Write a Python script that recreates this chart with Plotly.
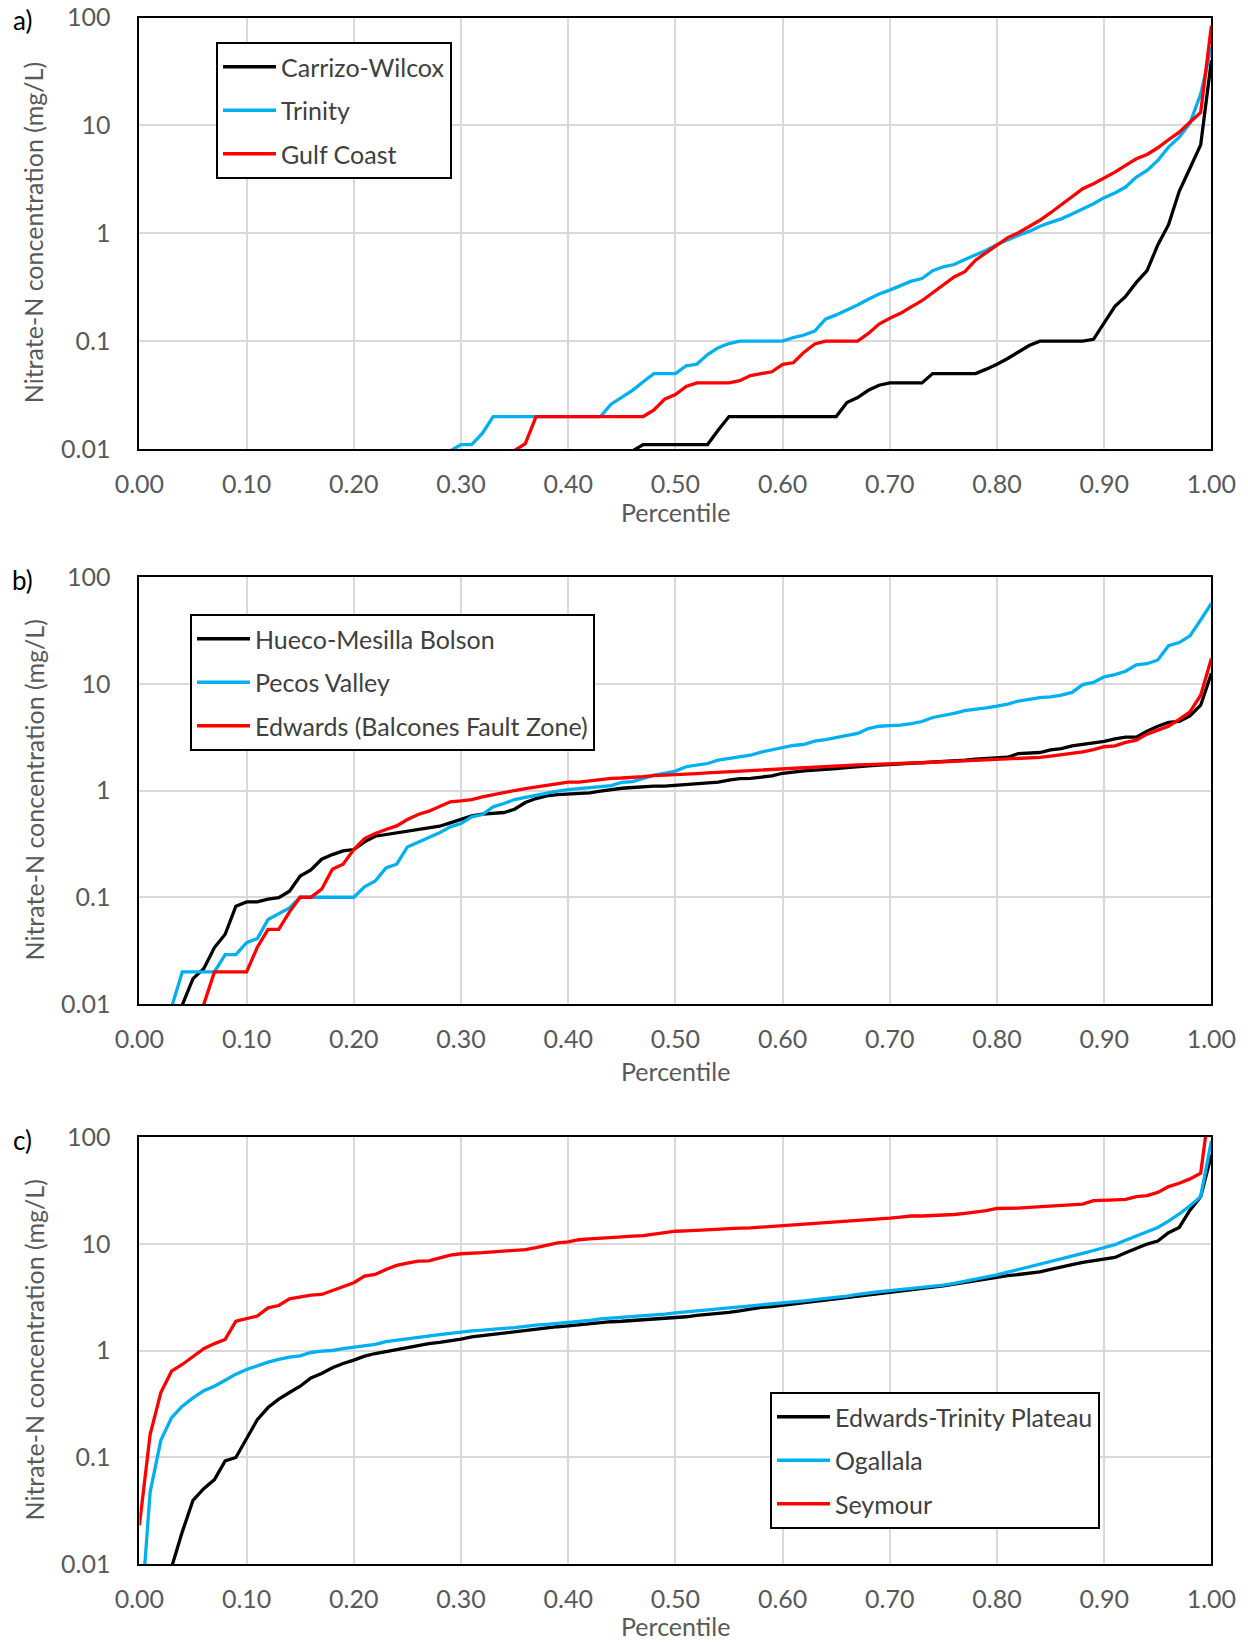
import plotly.graph_objects as go

# ---------------- data ----------------
PERCENTILE = [round(i / 100, 2) for i in range(101)]

# panel a
carrizo_wilcox = ([0.005] * 46 + [0.0096] + [0.011] * 7 + [0.015] + [0.02] * 11 +
                  [0.027, 0.030, 0.035, 0.039, 0.041, 0.041, 0.041, 0.041,
                   0.05, 0.05, 0.05, 0.05, 0.05, 0.055, 0.061, 0.069, 0.079, 0.091,
                   0.1, 0.1, 0.1, 0.1, 0.1, 0.104, 0.15, 0.21, 0.26, 0.35, 0.45,
                   0.78, 1.2, 2.45, 4.0, 6.6, 40])
trinity = ([0.005] * 29 + [0.0096, 0.011, 0.011, 0.014] + [0.02] * 11 +
           [0.026, 0.030, 0.035, 0.042, 0.05, 0.05, 0.05, 0.059, 0.061, 0.075, 0.087, 0.095,
            0.1, 0.1, 0.1, 0.1, 0.1, 0.108, 0.114, 0.124, 0.16, 0.175, 0.194, 0.216, 0.244,
            0.273, 0.297, 0.324, 0.36, 0.38, 0.449, 0.489, 0.513, 0.571, 0.626, 0.697,
            0.786, 0.873, 0.958, 1.04, 1.16, 1.26, 1.36, 1.51, 1.67, 1.88, 2.14, 2.36,
            2.68, 3.32, 3.82, 4.73, 6.28, 7.78, 10.5, 19.5, 53])
gulf_coast = ([0.005] * 35 + [0.0097, 0.0112] + [0.02] * 11 +
              [0.023, 0.029, 0.032, 0.038, 0.041, 0.041, 0.041, 0.041, 0.043, 0.048, 0.050,
               0.052, 0.061, 0.063, 0.079, 0.094, 0.1, 0.1, 0.1, 0.1, 0.118, 0.144, 0.163,
               0.181, 0.208, 0.237, 0.281, 0.33, 0.394, 0.44, 0.563, 0.662, 0.774, 0.912,
               1.01, 1.15, 1.32, 1.55, 1.84, 2.2, 2.59, 2.88, 3.25, 3.69, 4.26, 4.9, 5.38,
               6.2, 7.35, 8.65, 10.7, 13.2, 84])

# panel b
hueco_mesilla = ([0.005] * 4 +
                 [0.0098, 0.0173, 0.0214, 0.0338, 0.045, 0.0824, 0.0904, 0.0904, 0.0958, 0.099,
                  0.114, 0.158, 0.18, 0.227, 0.251, 0.272, 0.28, 0.33, 0.373, 0.387, 0.404,
                  0.419, 0.431, 0.447, 0.463, 0.498, 0.535, 0.579, 0.6, 0.61, 0.622, 0.668,
                  0.772, 0.841, 0.891, 0.917, 0.924, 0.93, 0.951, 0.986, 1.02, 1.05, 1.067,
                  1.09, 1.1, 1.1, 1.12, 1.15, 1.17, 1.19, 1.2, 1.25, 1.29, 1.3, 1.34, 1.37,
                  1.45, 1.5, 1.53, 1.55, 1.57, 1.6, 1.64, 1.68, 1.7, 1.73, 1.75, 1.78, 1.8,
                  1.83, 1.84, 1.87, 1.9, 1.92, 1.97, 1.99, 2.02, 2.05, 2.22, 2.24, 2.27, 2.4,
                  2.47, 2.62, 2.7, 2.76, 2.88, 3.05, 3.16, 3.16, 3.6, 4.0, 4.34, 4.43, 5.0,
                  6.3, 12.5])
pecos_valley = ([0.005] * 3 +
                [0.0093, 0.02, 0.02, 0.02, 0.02, 0.029, 0.029, 0.0376, 0.041, 0.0618, 0.0703,
                 0.0794, 0.1, 0.1, 0.1, 0.1, 0.1, 0.1, 0.125, 0.142, 0.188, 0.204, 0.296,
                 0.33, 0.363, 0.401, 0.457, 0.49, 0.567, 0.596, 0.703, 0.755, 0.823, 0.86,
                 0.904, 0.937, 0.986, 1.02, 1.04, 1.05, 1.08, 1.11, 1.19, 1.21, 1.3, 1.39,
                 1.45, 1.52, 1.67, 1.73, 1.79, 1.93, 1.99, 2.07, 2.14, 2.29, 2.39, 2.51,
                 2.64, 2.7, 2.9, 3.0, 3.14, 3.28, 3.42, 3.8, 4.0, 4.06, 4.09, 4.24, 4.43,
                 4.83, 5.0, 5.27, 5.6, 5.73, 5.95, 6.17, 6.45, 6.89, 7.15, 7.42, 7.54, 7.82,
                 8.29, 9.81, 10.3, 11.6, 12.2, 13.1, 15.0, 15.4, 16.7, 22.7, 24.3, 28.1,
                 39.6, 56.6])
edwards_bfz = ([0.005] * 6 +
               [0.0099, 0.02, 0.02, 0.02, 0.02, 0.034, 0.05, 0.05, 0.073, 0.1, 0.1, 0.119,
                0.183, 0.204, 0.28, 0.355, 0.395, 0.431, 0.466, 0.535, 0.596, 0.64, 0.703,
                0.783, 0.8, 0.823, 0.872, 0.917, 0.951, 1.0, 1.04, 1.08, 1.13, 1.16, 1.2,
                1.2, 1.23, 1.28, 1.3, 1.31, 1.32, 1.35, 1.38, 1.39, 1.4, 1.42, 1.44, 1.46,
                1.48, 1.5, 1.51, 1.53, 1.55, 1.57, 1.6, 1.62, 1.63, 1.65, 1.68, 1.72, 1.73,
                1.74, 1.75, 1.77, 1.79, 1.8, 1.81, 1.82, 1.84, 1.86, 1.87, 1.89, 1.91, 1.93,
                1.95, 1.97, 1.99, 2.01, 2.04, 2.1, 2.16, 2.22, 2.3, 2.42, 2.57, 2.62, 2.82,
                2.96, 3.37, 3.68, 4.0, 4.63, 5.46, 7.8, 17.3])

# panel c
edwards_trinity = ([0.005] * 3 +
                   [0.0093, 0.02, 0.0395, 0.0508, 0.0618, 0.0925, 0.0995, 0.15, 0.225, 0.292,
                    0.35, 0.404, 0.463, 0.554, 0.609, 0.688, 0.755, 0.812, 0.885, 0.937,
                    0.979, 1.02, 1.06, 1.1, 1.16, 1.19, 1.23, 1.28, 1.34, 1.38, 1.42, 1.46,
                    1.5, 1.53, 1.57, 1.62, 1.67, 1.7, 1.74, 1.79, 1.83, 1.86, 1.88, 1.91,
                    1.92, 1.95, 1.98, 2.02, 2.07, 2.13, 2.17, 2.22, 2.28, 2.35, 2.44, 2.53,
                    2.58, 2.64, 2.72, 2.8, 2.88, 2.96, 3.04, 3.12, 3.24, 3.35, 3.42, 3.5,
                    3.59, 3.68, 3.79, 3.9, 4.04, 4.19, 4.34, 4.5, 4.7, 4.9, 5.02, 5.15, 5.3,
                    5.46, 5.75, 6.09, 6.38, 6.68, 6.95, 7.23, 7.44, 8.24, 9.04, 9.93, 10.6,
                    12.7, 14.2, 20.6, 27.6, 68])
ogallala = [0.002, 0.047, 0.144, 0.235, 0.301, 0.36, 0.419, 0.463, 0.527, 0.6, 0.664, 0.724,
            0.778, 0.824, 0.866, 0.891, 0.958, 0.986, 1.0, 1.04, 1.07, 1.1, 1.14, 1.21, 1.25,
            1.3, 1.33, 1.37, 1.41, 1.45, 1.5, 1.53, 1.55, 1.57, 1.61, 1.64, 1.69, 1.73, 1.76,
            1.79, 1.83, 1.86, 1.91, 1.98, 2.01, 2.05, 2.08, 2.11, 2.14, 2.19, 2.25, 2.3,
            2.35, 2.38, 2.42, 2.47, 2.53, 2.6, 2.66, 2.71, 2.76, 2.84, 2.92, 3.0, 3.07,
            3.15, 3.23, 3.35, 3.47, 3.55, 3.63, 3.71, 3.79, 3.87, 3.95, 4.1, 4.25, 4.44,
            4.63, 4.86, 5.1, 5.42, 5.74, 6.04, 6.35, 6.75, 7.18, 7.62, 8.11, 8.65, 9.24,
            9.8, 10.8, 11.8, 13.0, 14.2, 16.3, 19.0, 22.7, 27.6, 92]
seymour = [0.023, 0.163, 0.404, 0.64, 0.74, 0.873, 1.04, 1.16, 1.27, 1.88, 1.98, 2.1, 2.51,
           2.64, 3.05, 3.19, 3.3, 3.35, 3.65, 4.01, 4.31, 4.97, 5.16, 5.75, 6.27, 6.59, 6.88,
           6.9, 7.39, 7.83, 8.06, 8.1, 8.25, 8.4, 8.54, 8.78, 8.8, 9.18, 9.73, 10.2, 10.4,
           10.9, 11.1, 11.2, 11.4, 11.6, 11.8, 11.9, 12.3, 12.7, 13.1, 13.2, 13.4, 13.6,
           13.7, 13.9, 14.0, 14.1, 14.3, 14.6, 14.9, 15.1, 15.3, 15.5, 15.8, 16.0, 16.3,
           16.5, 16.7, 17.0, 17.4, 17.8, 18.2, 18.2, 18.3, 18.5, 18.8, 19.3, 19.7, 20.4,
           21.4, 21.4, 21.6, 21.9, 22.2, 22.4, 22.9, 23.0, 23.5, 25.3, 25.7, 25.8, 26.0,
           27.6, 28.2, 30.3, 34.3, 36.9, 40.5, 45.9, 260]

PANELS = [
    ("a)", [("Carrizo-Wilcox", carrizo_wilcox), ("Trinity", trinity), ("Gulf Coast", gulf_coast)]),
    ("b)", [("Hueco-Mesilla Bolson", hueco_mesilla), ("Pecos Valley", pecos_valley),
            ("Edwards (Balcones Fault Zone)", edwards_bfz)]),
    ("c)", [("Edwards-Trinity Plateau", edwards_trinity), ("Ogallala", ogallala),
            ("Seymour", seymour)]),
]
SERIES_COLORS = ["#000000", "#00b0f0", "#ff0000"]
Y_TICKS = [0.01, 0.1, 1, 10, 100]
Y_TICK_TEXT = ["0.01", "0.1", "1", "10", "100"]
X_TITLE = "Percentile"
Y_TITLE = "Nitrate-N concentration (mg/L)"

# ---------------- layout geometry (pixels) ----------------
W, H = 1248, 1643
PLOT_L, PLOT_R = 139.4, 1211.4
PANEL_TB = [(17.5, 449.0), (577.0, 1004.0), (1137.0, 1564.0)]
LEGEND_POS = [(216, 42), (190, 614), (770, 1392)]
XTITLE_Y = [512, 1071, 1626]

FONT = "Lato, 'Open Sans', sans-serif"
GREY = "#595959"
TICK_SIZE = 25

def px(x):
    return x / W

def py(y):
    return 1 - y / H

fig = go.Figure()
layout = dict(
    width=W, height=H, margin=dict(l=0, r=0, t=0, b=0, autoexpand=False),
    paper_bgcolor="white", plot_bgcolor="white",
    font=dict(family=FONT, size=TICK_SIZE, color=GREY),
    annotations=[],
)

for i, (label, series) in enumerate(PANELS):
    n = "" if i == 0 else str(i + 1)
    top, bot = PANEL_TB[i]
    legend_name = "legend" if i == 0 else f"legend{i + 1}"
    for j, (name, vals) in enumerate(series):
        fig.add_trace(go.Scatter(
            x=PERCENTILE, y=vals, mode="lines", name=name,
            line=dict(color=SERIES_COLORS[j], width=3.3),
            xaxis="x" + n, yaxis="y" + n, legend=legend_name,
            legendgroup=f"g{i}{j}", hoverinfo="x+y+name",
        ))
    layout["xaxis" + n] = dict(
        domain=[px(PLOT_L), px(PLOT_R)], anchor="y" + n, range=[0, 1],
        tick0=0, dtick=0.1, tickformat=".2f", showgrid=True, gridcolor="#d9d9d9",
        gridwidth=1.5, showline=True, linecolor="black", linewidth=2, mirror=True,
        zeroline=False, ticks="", ticklabelstandoff=12, automargin=False,
        tickfont=dict(family=FONT, size=TICK_SIZE, color=GREY),
    )
    layout["yaxis" + n] = dict(
        domain=[py(bot), py(top)], anchor="x" + n, type="log", range=[-2, 2],
        tickvals=Y_TICKS, ticktext=Y_TICK_TEXT, showgrid=True, gridcolor="#d9d9d9",
        gridwidth=1.5, showline=True, linecolor="black", linewidth=2, mirror=True,
        zeroline=False, ticks="", ticklabelstandoff=22, automargin=False,
        tickfont=dict(family=FONT, size=TICK_SIZE, color=GREY),
    )
    lx, ly = LEGEND_POS[i]
    layout[legend_name] = dict(
        x=px(lx), y=py(ly), xanchor="left", yanchor="top",
        bgcolor="white", bordercolor="black", borderwidth=2,
        font=dict(family=FONT, size=25, color="#404040"),
        traceorder="grouped", tracegroupgap=8, itemwidth=53,
    )
    layout["annotations"] += [
        dict(text=label, xref="paper", yref="paper", x=px(22), y=py(top + 3),
             showarrow=False, font=dict(family=FONT, size=26, color="black"),
             xanchor="center", yanchor="middle"),
        dict(text=X_TITLE, xref="paper", yref="paper", x=px((PLOT_L + PLOT_R) / 2),
             y=py(XTITLE_Y[i]), showarrow=False, xanchor="center", yanchor="middle",
             font=dict(family=FONT, size=TICK_SIZE, color=GREY)),
        dict(text=Y_TITLE, xref="paper", yref="paper", x=px(33), y=py((top + bot) / 2),
             showarrow=False, textangle=-90, xanchor="center", yanchor="middle",
             font=dict(family=FONT, size=TICK_SIZE, color=GREY)),
    ]

fig.update_layout(**layout)
fig.write_html("out.html")
